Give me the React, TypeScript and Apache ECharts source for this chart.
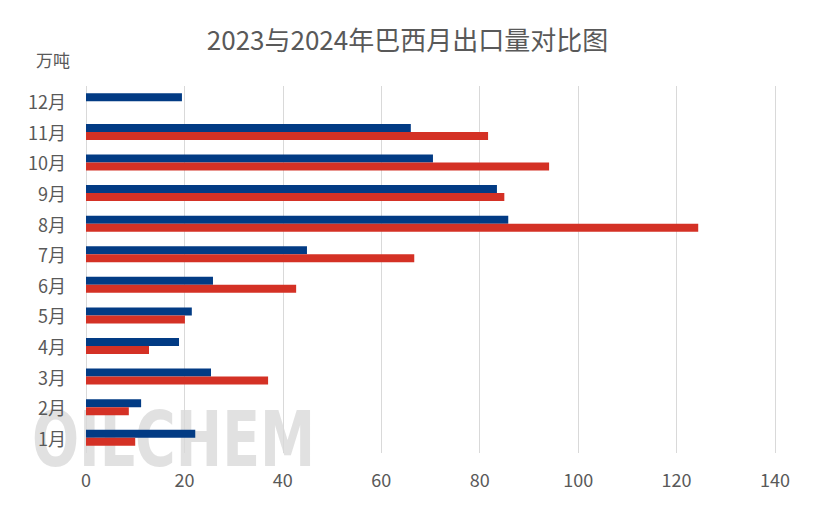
import React, { useEffect, useRef } from "react";
import * as echarts from "echarts";

const months = ["1月", "2月", "3月", "4月", "5月", "6月", "7月", "8月", "9月", "10月", "11月", "12月"];
const exports2023 = [22.2, 11.2, 25.4, 18.9, 21.5, 25.8, 44.9, 85.8, 83.5, 70.5, 66.0, 19.5];
const exports2024 = [10.0, 8.7, 37.0, 12.8, 20.1, 42.7, 66.7, 124.4, 85.0, 94.1, 81.7, null];
const titleText = "2023与2024年巴西月出口量对比图";
const unitText = "万吨";
const watermarkText = "OILCHEM";

const FONT = "'Noto Sans CJK SC', 'Noto Sans', sans-serif";

export default function App() {
  const ref = useRef<HTMLDivElement>(null);
  useEffect(() => {
    if (!ref.current) return;
    const chart = echarts.init(ref.current, undefined, { renderer: "svg" });
    chart.setOption({
      animation: false,
      backgroundColor: "#ffffff",
      textStyle: { fontFamily: FONT },
      title: {
        text: titleText,
        left: "center",
        top: 20,
        textStyle: { fontFamily: FONT, fontSize: 26, fontWeight: "normal", color: "#595959" },
      },
      graphic: [
        {
          type: "text",
          left: 36,
          top: 51,
          style: { text: unitText, font: `17px ${FONT}`, fill: "#595959" },
        },
        {
          type: "group",
          x: 32,
          y: 440,
          scaleX: 0.72,
          z: -10,
          silent: true,
          children: [
            {
              type: "text",
              x: 0,
              y: 0,
              z: -10,
              style: {
                text: watermarkText,
                font: `bold 77px 'DejaVu Sans', sans-serif`,
                verticalAlign: "middle",
                align: "left",
                fill: "rgba(200,200,200,0.55)",
              },
            },
          ],
        },
      ],
      grid: { left: 86, right: 40, top: 86, bottom: 56, containLabel: false },
      xAxis: {
        type: "value",
        min: 0,
        max: 140,
        interval: 20,
        axisLine: { show: false },
        axisTick: { show: false },
        axisLabel: { fontSize: 18, color: "#595959", margin: 17, fontFamily: FONT },
        splitLine: { show: true, lineStyle: { color: "#d9d9d9", width: 1 } },
      },
      yAxis: {
        type: "category",
        data: months,
        axisLine: { show: false },
        axisTick: { show: false },
        axisLabel: { fontSize: 18, color: "#595959", margin: 20, fontFamily: FONT },
      },
      series: [
        {
          name: "2023年",
          type: "bar",
          data: exports2023,
          barWidth: 8,
          barGap: "0%",
          z: 5,
          itemStyle: { color: "#023B84" },
        },
        {
          name: "2024年",
          type: "bar",
          data: exports2024,
          barWidth: 8,
          barGap: "0%",
          z: 5,
          itemStyle: { color: "#D43125" },
        },
      ],
    });
    return () => chart.dispose();
  }, []);
  return <div ref={ref} style={{ width: 815, height: 509, margin: -8 }} />;
}
